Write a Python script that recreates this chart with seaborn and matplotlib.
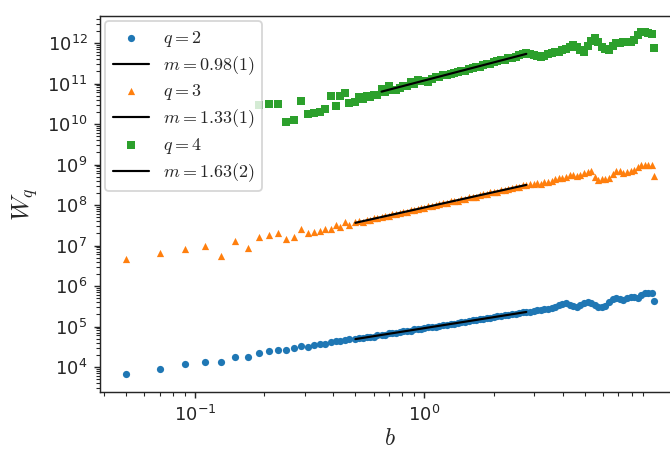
import numpy as np
import pandas as pd
import matplotlib
matplotlib.use('Agg')
import matplotlib.pyplot as plt
from matplotlib.ticker import FixedLocator
import seaborn as sns

# b values (shared by all three series)
b_small = [0.05, 0.07, 0.09, 0.11, 0.13, 0.15, 0.17, 0.19, 0.21, 0.23, 0.25,
           0.27, 0.29, 0.31, 0.33, 0.35, 0.37, 0.39, 0.41, 0.43, 0.45, 0.47]
b_dense = [0.50, 0.52, 0.54, 0.56, 0.58, 0.60, 0.62, 0.65, 0.67, 0.70, 0.72, 0.75,
           0.78, 0.81, 0.84, 0.87, 0.90, 0.94, 0.97, 1.00, 1.04, 1.08, 1.12, 1.16,
           1.20, 1.25, 1.30, 1.35, 1.40, 1.45, 1.50, 1.56, 1.62, 1.68, 1.74, 1.80,
           1.87, 1.94, 2.01, 2.08, 2.16, 2.24, 2.32, 2.41, 2.50, 2.59, 2.68, 2.78,
           2.88, 2.99, 3.10, 3.21, 3.33, 3.45, 3.58, 3.71, 3.85, 3.99, 4.14, 4.29,
           4.45, 4.61, 4.78, 4.96, 5.14, 5.33, 5.52, 5.72, 5.93, 6.15, 6.38, 6.61,
           6.85, 7.10, 7.36, 7.63, 7.91, 8.20, 8.50, 8.81, 9.13, 9.46, 9.80, 10.0]
b_all = b_small + b_dense
b_green = b_all[7:]

# log10(W_q)
w2_log = [3.82, 3.95, 4.07, 4.13, 4.13, 4.25, 4.25, 4.35, 4.40, 4.42, 4.41,
          4.46, 4.52, 4.50, 4.54, 4.56, 4.58, 4.61, 4.63, 4.65, 4.66, 4.68,
          4.69, 4.71, 4.71, 4.74, 4.75, 4.75, 4.78, 4.79, 4.80, 4.83, 4.83, 4.84,
          4.87, 4.88, 4.89, 4.90, 4.93, 4.93, 4.95, 4.96, 4.98, 4.99, 5.00, 5.02,
          5.03, 5.04, 5.07, 5.07, 5.09, 5.11, 5.11, 5.14, 5.15, 5.16, 5.18, 5.19,
          5.20, 5.22, 5.23, 5.25, 5.25, 5.28, 5.29, 5.30, 5.32, 5.33, 5.35, 5.36,
          5.37, 5.39, 5.41, 5.40, 5.43, 5.44, 5.45, 5.48, 5.52, 5.56, 5.57, 5.53,
          5.50, 5.49, 5.53, 5.58, 5.61, 5.58, 5.52, 5.48, 5.47, 5.50, 5.60, 5.68,
          5.70, 5.68, 5.66, 5.70, 5.73, 5.72, 5.70, 5.78, 5.83, 5.82, 5.82, 5.62]
w3_log = [6.66, 6.81, 6.91, 6.99, 6.75, 7.12, 6.93, 7.20, 7.26, 7.30, 7.16,
          7.20, 7.40, 7.30, 7.33, 7.36, 7.40, 7.42, 7.51, 7.46, 7.59, 7.51,
          7.57, 7.60, 7.59, 7.63, 7.64, 7.67, 7.67, 7.71, 7.72, 7.73, 7.77, 7.77,
          7.81, 7.82, 7.83, 7.87, 7.88, 7.90, 7.93, 7.93, 7.97, 7.98, 7.99, 8.03,
          8.04, 8.05, 8.09, 8.10, 8.11, 8.15, 8.15, 8.19, 8.20, 8.21, 8.25, 8.26,
          8.27, 8.31, 8.32, 8.33, 8.37, 8.38, 8.39, 8.43, 8.44, 8.45, 8.49, 8.50,
          8.51, 8.53, 8.54, 8.53, 8.56, 8.58, 8.60, 8.63, 8.66, 8.67, 8.70, 8.73,
          8.74, 8.72, 8.75, 8.78, 8.81, 8.83, 8.70, 8.62, 8.63, 8.65, 8.67, 8.76,
          8.85, 8.84, 8.80, 8.81, 8.83, 8.86, 8.93, 8.98, 8.99, 8.98, 8.99, 8.72]
w4_log = [10.47, 10.49, 10.49, 10.06, 10.10, 10.58, 10.24, 10.26, 10.30, 10.36,
          10.69, 10.44, 10.69, 10.76, 10.51,
          10.55, 10.66, 10.62, 10.70, 10.66, 10.72, 10.71, 10.86, 10.80, 10.93,
          10.84, 10.85, 10.90, 10.95, 10.93, 11.03, 11.00, 11.08, 11.05, 11.07,
          11.03, 11.10, 11.15, 11.17, 11.20, 11.22, 11.23, 11.27, 11.28, 11.31,
          11.32, 11.36, 11.38, 11.41, 11.42, 11.46, 11.48, 11.49, 11.53, 11.55,
          11.58, 11.59, 11.62, 11.64, 11.66, 11.70, 11.72, 11.75,
          11.72, 11.70, 11.67, 11.66, 11.69, 11.72, 11.75, 11.77, 11.79, 11.82,
          11.86, 11.90, 11.95, 11.90, 11.83, 11.79, 11.92, 12.05, 12.12, 12.02,
          11.90, 11.84, 11.83, 11.92, 11.99, 12.00, 12.02, 12.03, 12.03, 12.08,
          12.20, 12.28, 12.27, 12.24, 12.22, 11.87]

series = [
    ('$q=2$', b_all, w2_log, 'o', '#1f77b4', 0.5, '$m=0.98(1)$'),
    ('$q=3$', b_all, w3_log, '^', '#ff7f0e', 0.5, '$m=1.33(1)$'),
    ('$q=4$', b_green, w4_log, 's', '#2ca02c', 0.65, '$m=1.63(2)$'),
]
fit_hi = 2.8

sns.set_style('ticks')
plt.rcParams['font.family'] = ['DejaVu Sans']
plt.rcParams['mathtext.fontset'] = 'cm'
plt.rcParams['axes.unicode_minus'] = False

fig = plt.figure(figsize=(670 / 130, 449 / 130), dpi=130)
ax = fig.add_axes([100 / 670, 57 / 449, 580 / 670, 376 / 449])

for lab, bb, wl, mk, col, lo, mlab in series:
    df = pd.DataFrame({'b': bb, 'W': 10 ** np.array(wl)})
    sns.scatterplot(data=df, x='b', y='W', marker=mk, color=col, s=16,
                    linewidth=0, label=lab, ax=ax)
    sel = df[(df['b'] >= lo) & (df['b'] <= fit_hi)]
    p = np.polyfit(np.log10(sel['b']), np.log10(sel['W']), 1)
    fit = pd.DataFrame({'b': sel['b'], 'W': 10 ** np.polyval(p, np.log10(sel['b']))})
    sns.lineplot(data=fit, x='b', y='W', color='k', linewidth=1.2, label=mlab, ax=ax)

ax.set_xscale('log')
ax.set_yscale('log')
ax.set_xlim(0.0385, 13.0)
ax.set_ylim(10 ** 3.383, 10 ** 12.667)
ax.xaxis.set_major_locator(FixedLocator([0.1, 1.0]))
ax.tick_params(which='major', length=3.5, width=0.8, labelsize=10)
ax.tick_params(which='minor', length=2, width=0.6)
ax.set_xlabel('$b$', fontsize=13, labelpad=1)
ax.set_ylabel('$W_q$', fontsize=14)
ax.legend(loc='upper left', borderaxespad=0.3, fontsize=10, labelspacing=0.3)

fig.savefig('out.png', dpi=130)
